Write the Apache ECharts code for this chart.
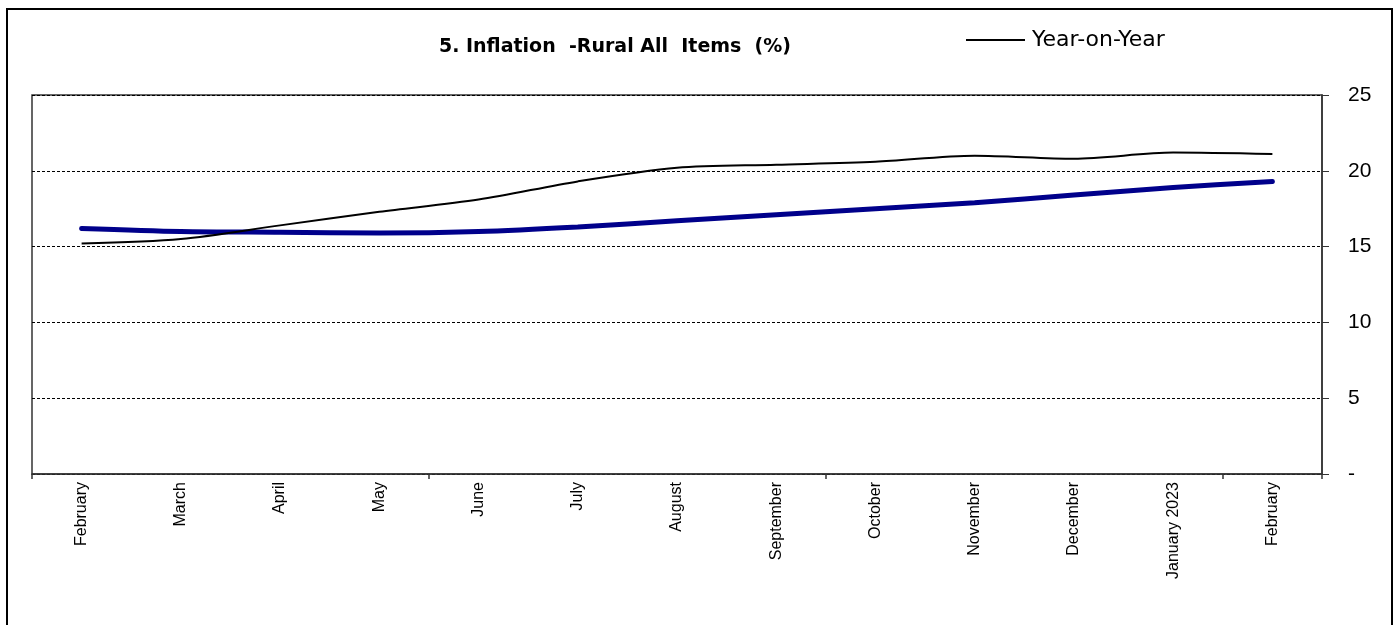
<!DOCTYPE html>
<html><head><meta charset="utf-8">
<script src="https://cdn.jsdelivr.net/npm/echarts@6/dist/echarts.min.js"></script>
<style>html,body{margin:0;padding:0;background:#fff}#c{width:1395px;height:625px}</style>
</head><body><div id="c"></div>
<script>
const categories = ['February','March','April','May','June','July','August','September','October','November','December','January 2023','February'];
const yearOnYear = [15.2, 15.5, 16.4, 17.3, 18.1, 19.3, 20.2, 20.4, 20.6, 21.0, 20.8, 21.2, 21.1];
const twelveMonthAvg = [16.2, 16.0, 15.95, 15.9, 16.0, 16.3, 16.7, 17.1, 17.5, 17.9, 18.4, 18.9, 19.3];
const yTicks = [0, 5, 10, 15, 20, 25];

const chart = echarts.init(document.getElementById('c'));
chart.setOption({
  animation: false,
  backgroundColor: '#fff',
  textStyle: { fontFamily: 'Liberation Sans, Arial, sans-serif' },
  title: {
    text: '5. Inflation  -Rural All  Items  (%)',
    left: 615, top: 38, textAlign: 'center', padding: 0,
    textStyle: { fontSize: 19, fontWeight: 'bold', color: '#000', fontFamily: 'DejaVu Sans, Liberation Sans, sans-serif' }
  },
  legend: {
    data: ['Year-on-Year'],
    left: 966, top: 29, padding: 0,
    itemWidth: 59, itemHeight: 2, itemGap: 4,
    icon: 'rect',
    textStyle: { fontSize: 22, color: '#000', padding: [0,0,0,2], fontFamily: 'DejaVu Sans, Liberation Sans, sans-serif' }
  },
  graphic: [{
    type: 'rect', shape: { x: 7, y: 9, width: 1385, height: 700 },
    style: { fill: 'none', stroke: '#000', lineWidth: 2 }, silent: true
  }],
  grid: { left: 32, right: 73, top: 95, bottom: 151, show: true, borderColor: '#333', borderWidth: 1.5 },
  xAxis: {
    type: 'category', data: categories, boundaryGap: true,
    axisLine: { lineStyle: { color: '#333', width: 1.5 } },
    axisTick: { show: true, interval: 3, length: 5, lineStyle: { color: '#333', width: 1.5 } },
    axisLabel: { interval: 0, rotate: 90, fontSize: 16, color: '#000', margin: 8,
      fontFamily: 'Liberation Sans Narrow, Liberation Sans, Arial, sans-serif' }
  },
  yAxis: {
    type: 'value', position: 'right', min: 0, max: 25, interval: 5,
    axisLine: { show: true, lineStyle: { color: '#333', width: 1.5 } },
    axisTick: { show: true, length: 7, inside: false, lineStyle: { color: '#333', width: 1 } },
    axisLabel: { fontSize: 21, color: '#000', margin: 26,
      formatter: v => (yTicks.indexOf(v) >= 0 && v === 0) ? '-' : String(v) },
    splitLine: { show: true, lineStyle: { color: '#000', type: [3, 2], width: 1 } }
  },
  series: [
    {
      name: '12-Month Average', type: 'line', data: twelveMonthAvg,
      smooth: 0.3, symbol: 'none',
      lineStyle: { color: '#00008B', width: 5, cap: 'round' }, itemStyle: { color: '#00008B' }, z: 2
    },
    {
      name: 'Year-on-Year', type: 'line', data: yearOnYear,
      smooth: 0.3, symbol: 'none',
      lineStyle: { color: '#000', width: 2 }, itemStyle: { color: '#000' }, z: 3
    }
  ]
});
</script></body></html>
